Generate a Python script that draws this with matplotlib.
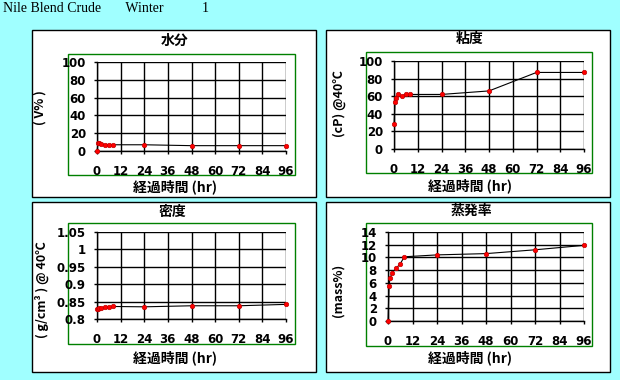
import matplotlib
matplotlib.use("Agg")
import matplotlib.pyplot as plt
from matplotlib.patches import Rectangle

plt.rcParams['font.family'] = ['Noto Sans CJK JP', 'DejaVu Sans']

hours = [0, 0.5, 1, 2, 4, 6, 8, 24, 48, 72, 96]
water = [0, 9, 8.5, 7.5, 7, 7, 7, 7, 6, 6, 6]
viscosity = [28, 53, 58, 62, 60.5, 62, 62, 62, 66, 87, 87]
density = [0.828, 0.830, 0.831, 0.832, 0.834, 0.835, 0.836, 0.835, 0.838, 0.838, 0.842]
evaporation = [0, 5.5, 6.7, 7.6, 8.3, 9.0, 10.1, 10.4, 10.6, 11.2, 11.9]

xticks = [0, 12, 24, 36, 48, 60, 72, 84, 96]
titles = ["水分", "粘度", "密度", "蒸発率"]
ylabels = ["( V% )", "(cP) @40℃", "( g/cm³ ) @ 40℃", "(mass%)"]
xlabel = "経過時間 (hr)"
header = "Nile Blend Crude       Winter           1"

W, H = 620, 380
fig = plt.figure(figsize=(W / 100, H / 100), dpi=100)
fig.patch.set_facecolor("#A0FFFF")

def fx(px):
    return px / W

def fy(py):
    return 1 - py / H

def rect(x0, y0, x1, y1, ec, lw, face, z):
    fig.add_artist(Rectangle((fx(x0), fy(y1)), fx(x1) - fx(x0), fy(y0) - fy(y1),
                             transform=fig.transFigure, facecolor=face,
                             edgecolor=ec, linewidth=lw, zorder=z))

panels = [(32, 30, 316, 197), (326, 30, 610, 197), (32, 202, 316, 372), (326, 202, 610, 372)]
greens = [(68, 54, 295, 175), (366, 52, 592, 173), (68, 223, 295, 344), (366, 223, 592, 346)]
axes_px = [(97, 62, 286, 151), (394, 61, 584, 149), (97, 232, 286, 319), (388, 232, 584, 321)]
title_pos = [(175, 41), (470, 39), (172, 212), (471, 211)]
xlab_pos = [(175, 187), (470, 186), (175, 358), (470, 358)]
ylab_pos = [(40, 108), (339, 104), (42, 290), (338, 290)]

for p in panels:
    rect(*p, "black", 1.0, "white", -2)
for g in greens:
    rect(*g, "#008000", 1.0, "none", -1)

series = [water, viscosity, density, evaporation]
ylims = [(0, 100), (0, 100), (0.8, 1.05), (0, 14)]
yticks = [[0, 20, 40, 60, 80, 100], [0, 20, 40, 60, 80, 100],
          [0.8, 0.85, 0.9, 0.95, 1.0, 1.05], [0, 2, 4, 6, 8, 10, 12, 14]]
yticklabels = [None, None, ["0.8", "0.85", "0.9", "0.95", "1", "1.05"], None]

for i in range(4):
    x0, y0, x1, y1 = axes_px[i]
    ax = fig.add_axes([fx(x0), fy(y1), fx(x1) - fx(x0), fy(y0) - fy(y1)])
    ax.set_zorder(1)
    ax.patch.set_alpha(0)
    ax.plot(hours, series[i], color="black", linewidth=0.8, zorder=3,
            marker="o", markersize=3.2, markerfacecolor="red", markeredgecolor="#C00000",
            markeredgewidth=0.5, clip_on=False)
    ax.set_xlim(0, 96)
    ax.set_ylim(*ylims[i])
    ax.set_xticks(xticks)
    ax.set_yticks(yticks[i])
    if yticklabels[i]:
        ax.set_yticklabels(yticklabels[i])
    ax.grid(True, color="black", linewidth=1.0)
    for s in ["top", "right"]:
        ax.spines[s].set_visible(False)
    for s in ["left", "bottom"]:
        ax.spines[s].set_linewidth(1.0)
    ax.tick_params(length=2, width=1, labelsize=8.5)
    ax.tick_params(axis="x", pad=8)
    ax.tick_params(axis="y", pad=6)
    for lab in ax.get_xticklabels() + ax.get_yticklabels():
        lab.set_fontweight("bold")
        lab.set_family("DejaVu Sans")
    fig.text(fx(title_pos[i][0]), fy(title_pos[i][1]), titles[i], ha="center", va="center",
             fontsize=10, fontweight="bold")
    fig.text(fx(xlab_pos[i][0]), fy(xlab_pos[i][1]), xlabel, ha="center", va="center",
             fontsize=10, fontweight="bold")
    fig.text(fx(ylab_pos[i][0]), fy(ylab_pos[i][1]), ylabels[i], ha="center", va="center",
             fontsize=9, fontweight="bold", rotation=90)

fig.text(fx(3), fy(9), header, ha="left", va="center", fontsize=10,
         family="Liberation Serif")

fig.savefig("out.png", dpi=100, facecolor=fig.get_facecolor())
